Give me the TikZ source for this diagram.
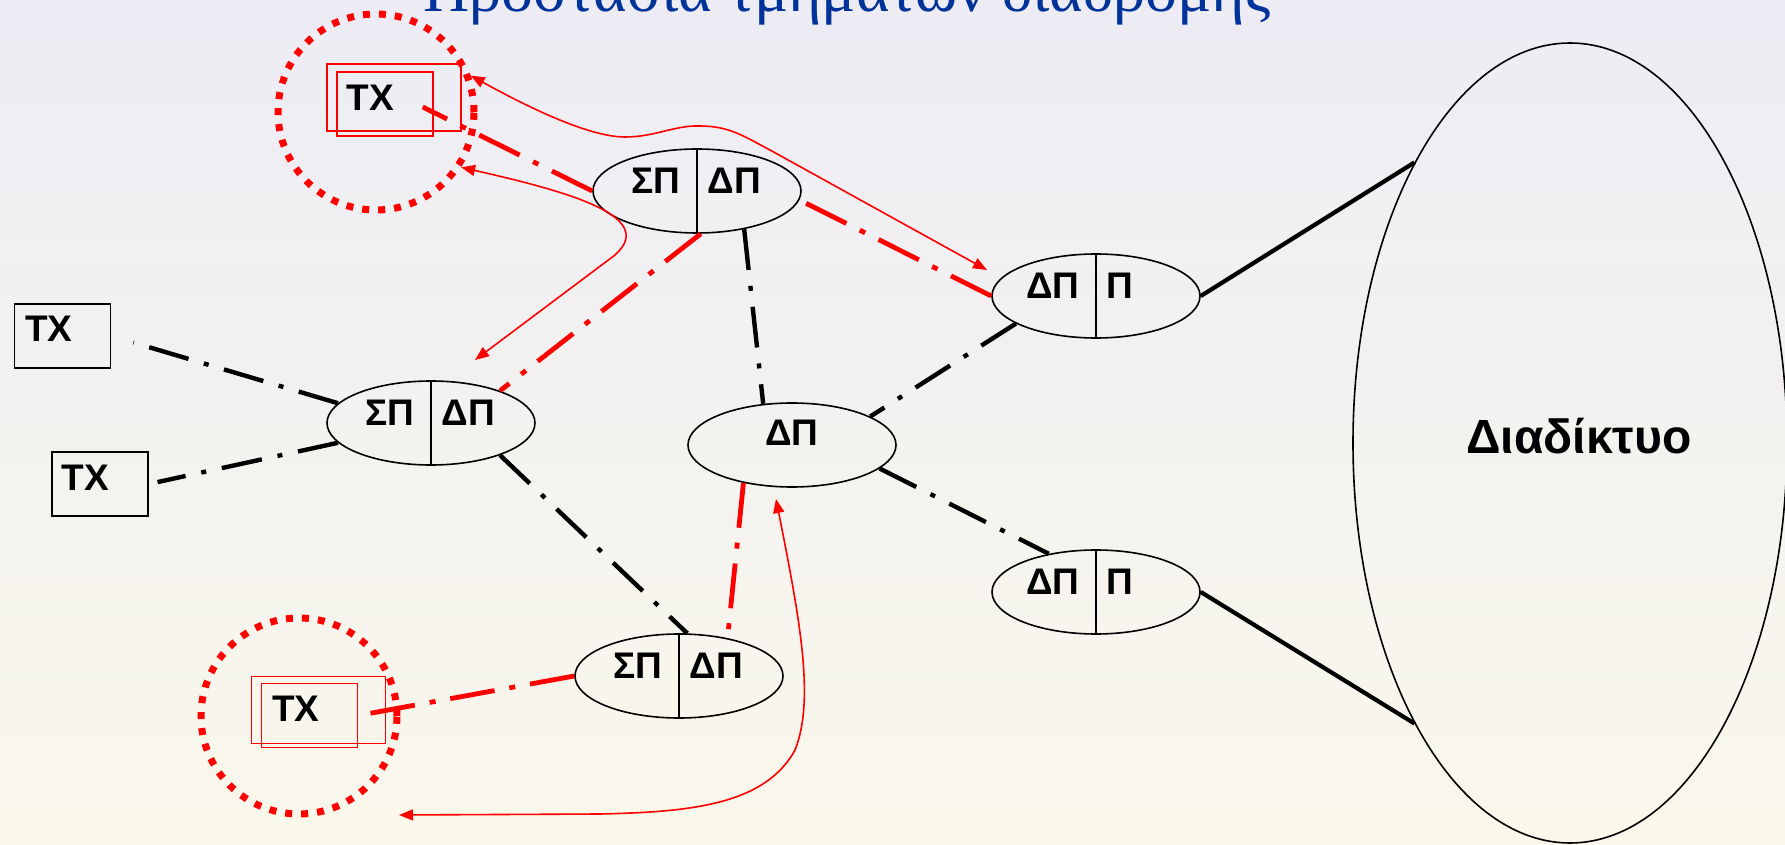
\documentclass[tikz,border=0pt]{standalone}
\usepackage{fontspec}
\setmainfont{Liberation Sans}
\newfontfamily\titlefont{Liberation Serif}
\usetikzlibrary{arrows.meta,shapes.geometric}

\definecolor{titleblue}{RGB}{0,51,153}
\definecolor{bgtop}{RGB}{237,236,245}
\definecolor{bgbot}{RGB}{250,248,234}

\tikzset{
  router/.style={draw, ellipse, line width=0.8pt, minimum width=104pt, minimum height=42pt, inner sep=0pt},
  host/.style={draw, line width=0.8pt, minimum width=48pt, minimum height=32pt, inner sep=0pt},
  hostframe/.style={draw=red, line width=0.75pt, minimum width=67pt, minimum height=33.5pt, inner sep=0pt},
  lbl/.style={font=\fontsize{18.5}{20}\selectfont\bfseries, inner sep=0pt},
  ring/.style={circle, draw=red, line width=3.5pt, dash pattern=on 3.5pt off 4.5pt, minimum size=98pt, inner sep=0pt},
  link/.style={line width=2.2pt, dash pattern=on 20.5pt off 8pt on 2.5pt off 8pt},
  redlink/.style={red, line width=2.4pt, dash pattern=on 22.5pt off 7.5pt on 3pt off 7.5pt},
  wire/.style={line width=2.1pt},
  flow/.style={red, line width=0.8pt, {Triangle[length=7pt,width=5.5pt]}-{Triangle[length=7pt,width=5.5pt]}},
}

% ellipse cut in two halves, one label each side
\newcommand{\splitrouter}[4]{%
  \node[router] (#1) at (#2) {};
  \draw[line width=0.8pt] (#1.north) -- (#1.south);
  \node[lbl, anchor=east] (#1-l) at ([shift={(-16,-10)}]#1.center) {#3};
  \node[lbl, anchor=west] (#1-r) at ([shift={(10,-10)}]#1.center) {#4};
}

\begin{document}
\begin{tikzpicture}[x=0.5pt, y=-0.5pt]

% ---- background ------------------------------------------------------------
\useasboundingbox (0,0) rectangle (1785,845);
\shade[top color=bgtop, bottom color=bgbot] (0,0) rectangle (1785,845);

% ---- title (cut by the top edge) -------------------------------------------
\node[font=\titlefont\fontsize{32}{32}\selectfont, text=titleblue, anchor=base, inner sep=0pt]
  (title) at (847,12) {Προστασία τμημάτων διαδρομής};

% ---- hosts -----------------------------------------------------------------
\node[host] (tx1) at (62.5,336) {};
\node[lbl, anchor=north west] (tx1-t) at ([shift={(11,12)}]tx1.north west) {ΤΧ};
\node[host] (tx2) at (100,484) {};
\node[lbl, anchor=north west] (tx2-t) at ([shift={(10,13)}]tx2.north west) {ΤΧ};

% protected hosts
\node[host, draw=red, line width=0.75pt] (txr1) at (385,104) {};
\node[hostframe] (txr1-f) at ([shift={(9,-6.5)}]txr1.center) {};
\node[lbl, anchor=north west] (txr1-t) at ([shift={(10,13)}]txr1.north west) {ΤΧ};
\node[ring] (ring1) at (376,112) {};

\node[host, draw=red, line width=0.75pt] (txr2) at (309.5,715.5) {};
\node[hostframe] (txr2-f) at ([shift={(9,-5.5)}]txr2.center) {};
\node[lbl, anchor=north west] (txr2-t) at ([shift={(11,13)}]txr2.north west) {ΤΧ};
\node[ring] (ring2) at (299,716) {};

% ---- routers ---------------------------------------------------------------
\splitrouter{spA}{697,191}{ΣΠ}{ΔΠ}
\splitrouter{spB}{431,423}{ΣΠ}{ΔΠ}
\splitrouter{spC}{679,676}{ΣΠ}{ΔΠ}
\splitrouter{dpA}{1096,296}{ΔΠ}{Π}
\splitrouter{dpB}{1096,592}{ΔΠ}{Π}
\node[router] (dpM) at (792,445) {};
\node[lbl] (dpM-t) at ([shift={(0,-12)}]dpM.center) {ΔΠ};

% ---- internet --------------------------------------------------------------
\node[ellipse, draw, line width=0.8pt, minimum width=217pt, minimum height=400pt, inner sep=0pt]
  (net) at (1570,443) {};
\node[lbl, font=\fontsize{24}{26}\selectfont\bfseries, anchor=base] (net-t) at (1579,454) {Διαδίκτυο};

% ---- links -----------------------------------------------------------------
\draw[link] (spB.168) -- (tx1.east) [shorten >=11.5pt];
\draw[link] (spB.192) -- (tx2.east) [shorten >=4.5pt];
\draw[link] (spB.-25) -- (spC.79);
\draw[link] (spA.-39) -- (dpM.125);
\draw[link] (dpA.199) -- (dpM.20);
\draw[link] (dpM.-15) -- (dpB.141);
\draw[wire] (dpA.east) -- (net.119);
\draw[wire] (dpB.east) -- (net.-119);

% protected path
\draw[redlink] (spA.west) -- ([shift={(-11,3)}]txr1.east);
\draw[redlink] (dpA.west) -- (spA.-5);
\draw[redlink] (spA.-85) -- (spB.25);
\draw[redlink] (dpM.218) -- (spC.38);
\draw[redlink] (spC.west) -- (txr2.east);

% ---- backup flows ----------------------------------------------------------
\coordinate (a1e) at (987,270);
\coordinate (a2e) at (475,360);
\coordinate (a3s) at (776,499);
\coordinate (a3e) at (399,815);
\draw[flow] (ring1.21) .. controls (515,100) and (585,137) .. (625,137)
  .. controls (655,137) and (675,125) .. (700,126)
  .. controls (730,126) and (745,137) .. (770,150) -- (a1e);
\draw[flow] (ring1.-33) .. controls (560,190) and (660,215) .. (615,255) -- (a2e);
\draw[flow] (a3s) .. controls (800,620) and (815,700) .. (795,750)
  .. controls (765,805) and (690,812) .. (600,814) -- (a3e);

\end{tikzpicture}
\end{document}
